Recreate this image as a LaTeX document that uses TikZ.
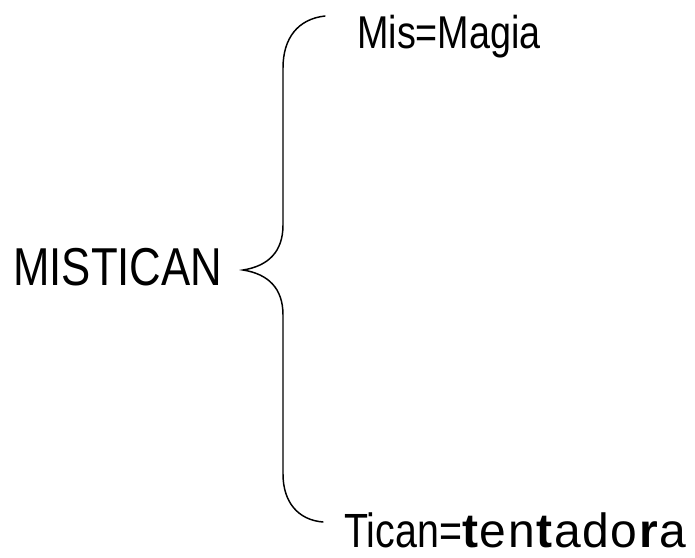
\documentclass[tikz,border=0pt]{standalone}
\usepackage{fontspec}
\setmainfont[FakeStretch=0.82]{Liberation Sans}
\newfontfamily\widefont[LetterSpace=3.5]{Liberation Sans}
\usepackage{tikz}
\usetikzlibrary{positioning}
\tikzset{
  word/.style ={anchor=base west, inner sep=0pt, font=\fontsize{40}{44}\selectfont},
  part/.style ={anchor=base west, inner sep=0pt, font=\fontsize{34.5}{38}\selectfont},
  partb/.style={anchor=base west, inner sep=0pt, font=\fontsize{36}{40}\selectfont},
  brace/.style={draw=black, line width=1.1pt, line cap=round},
}

\begin{document}
\begin{tikzpicture}[x=0.75pt, y=-0.75pt]
  \useasboundingbox (0,0) rectangle (695,557);
  \node[word]  (W)  at (13,285)  {MISTICAN};
  \node[part]  (P1) at (357,48)  {Mis=Magia};
  \node[partb] (P2) at (344,547) {Tican={\widefont\textbf{t}en\textbf{t}ado\textbf{r}a}};
  \coordinate (top) at (325,16);
  \coordinate (tip) at (243,270);
  \coordinate (bot) at (323,522);
  \draw[brace] (top) .. controls (298,19) and (283,38) .. (283,68)
    -- (283,225) .. controls (283,252) and (268,266) .. (tip)
    .. controls (268,274) and (283,288) .. (283,315)
    -- (283,474) .. controls (283,502) and (298,520) .. (bot);
\end{tikzpicture}
\end{document}
